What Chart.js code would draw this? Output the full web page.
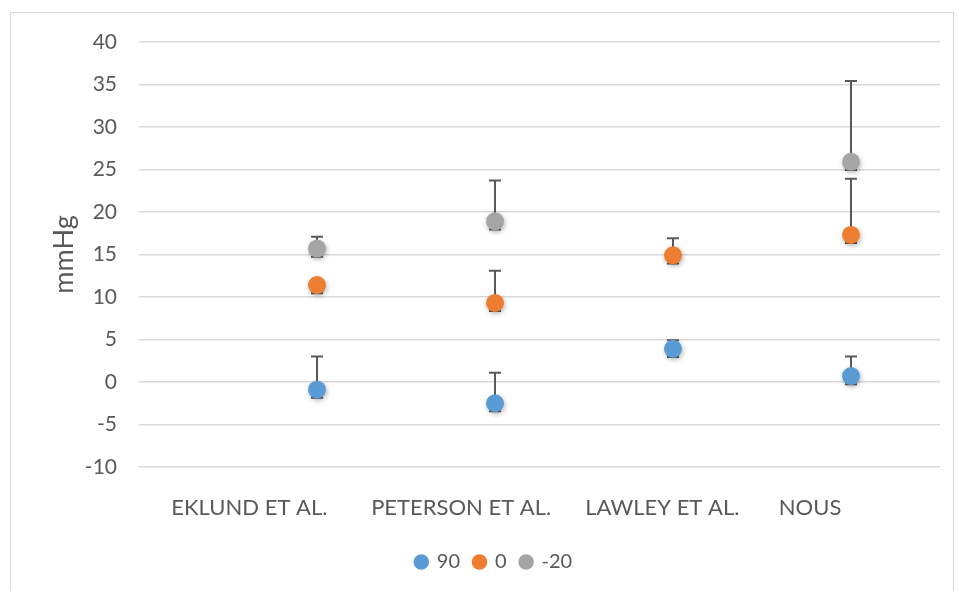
<!DOCTYPE html>
<html>
<head>
<meta charset="utf-8">
<script src="https://cdn.jsdelivr.net/npm/chart.js@4.4.1/dist/chart.umd.min.js"></script>
<style>
  html, body { margin: 0; padding: 0; background: #fff; }
  #wrap { position: relative; width: 958px; height: 591px; overflow: hidden; }
  #frame { position: absolute; left: 10px; top: 12px; width: 944px; height: 600px; border: 1px solid #d9d9d9; box-sizing: border-box; }
  canvas { position: absolute; left: 0; top: 0; }
</style>
</head>
<body>
<div id="wrap">
  <div id="frame"></div>
  <canvas id="errChart" width="958" height="591"></canvas>
</div>
<script>
// categories (studies)
const etudes = ["EKLUND ET AL.", "PETERSON ET AL.", "LAWLEY ET AL.", "NOUS"];
// where the category labels sit on the x scale (layout only)
const labelPos = [0.62, 1.81, 2.94, 3.77];

// mean values (mmHg)
const val90 = [-0.9, -2.5, 3.9, 0.7];
const val0 = [11.4, 9.3, 14.9, 17.3];
const valM20 = [15.7, 18.9, null, 25.9];

// upper error
const errHaut90 = [3.9, 3.6, 1.0, 2.3];
const errHaut0 = [0.0, 3.8, 2.0, 6.6];
const errHautM20 = [1.4, 4.8, 0, 9.5];

// lower error
const errBas = [0.95, 0.95, 0.95, 0.95];

const yTicks = { min: -10, max: 40, step: 5 };

const gris = "#595959";

function points(vals) {
  return vals
    .map((v, i) => ({ x: i + 1, y: v }))
    .filter(p => p.y !== null);
}

const errorBars = {
  id: "errorBars",
  beforeDatasetsDraw(chart) {
    const ctx = chart.ctx;
    const xs = chart.scales.x, ys = chart.scales.y;
    ctx.save();
    ctx.strokeStyle = gris;
    ctx.lineWidth = 2;
    chart.data.datasets.forEach(ds => {
      ds.data.forEach(p => {
        const i = p.x - 1;
        const x = xs.getPixelForValue(p.x);
        const yTop = ys.getPixelForValue(p.y + ds.errHaut[i]);
        const yBot = ys.getPixelForValue(p.y - ds.errBas[i]);
        ctx.beginPath();
        ctx.moveTo(x, yTop);
        ctx.lineTo(x, yBot);
        ctx.moveTo(x - 6, yTop);
        ctx.lineTo(x + 6, yTop);
        ctx.moveTo(x - 6, yBot);
        ctx.lineTo(x + 6, yBot);
        ctx.stroke();
      });
    });
    ctx.restore();
  },
  beforeDatasetDraw(chart) {
    const ctx = chart.ctx;
    ctx.save();
    ctx.shadowColor = "rgba(0,0,0,0.3)";
    ctx.shadowBlur = 5;
    ctx.shadowOffsetX = 1;
    ctx.shadowOffsetY = 2;
  },
  afterDatasetDraw(chart) {
    chart.ctx.restore();
  }
};

const ctx = document.getElementById("errChart").getContext("2d");

const chart = new Chart(ctx, {
  type: "scatter",
  data: {
    datasets: [
      {
        label: "90",
        data: points(val90),
        errHaut: errHaut90,
        errBas: errBas,
        backgroundColor: "#5B9BD5",
        borderColor: "#5B9BD5",
        pointRadius: 9,
        pointHoverRadius: 9,
        borderWidth: 0
      },
      {
        label: "0",
        data: points(val0),
        errHaut: errHaut0,
        errBas: errBas,
        backgroundColor: "#ED7D31",
        borderColor: "#ED7D31",
        pointRadius: 9,
        pointHoverRadius: 9,
        borderWidth: 0
      },
      {
        label: "-20",
        data: points(valM20),
        errHaut: errHautM20,
        errBas: errBas,
        backgroundColor: "#A5A5A5",
        borderColor: "#A5A5A5",
        pointRadius: 9,
        pointHoverRadius: 9,
        borderWidth: 0
      }
    ]
  },
  options: {
    responsive: false,
    animation: false,
    layout: { padding: { left: 48, right: 18, top: 42, bottom: 9 } },
    plugins: {
      legend: {
        position: "bottom",
        labels: {
          usePointStyle: true,
          pointStyle: "circle",
          boxWidth: 11,
          boxHeight: 11,
          padding: 14,
          color: gris,
          font: { family: "Lato", size: 20 }
        }
      },
      tooltip: { enabled: false }
    },
    scales: {
      x: {
        type: "linear",
        min: 0,
        max: 4.5,
        grid: { display: false },
        border: { display: false },
        afterBuildTicks(scale) {
          scale.ticks = labelPos.map(v => ({ value: v }));
        },
        afterFit(scale) {
          scale.height = 71;
        },
        ticks: {
          autoSkip: false,
          maxRotation: 0,
          padding: 20,
          color: gris,
          font: { family: "Lato", size: 22 },
          callback: (v, i) => etudes[i]
        }
      },
      y: {
        min: yTicks.min,
        max: yTicks.max,
        grid: { color: "#d9d9d9", lineWidth: 1.5, drawTicks: false },
        border: { display: false },
        afterFit(scale) {
          scale.width = 91;
        },
        ticks: {
          stepSize: yTicks.step,
          padding: 22,
          color: gris,
          font: { family: "Lato", size: 21 }
        },
        title: {
          display: true,
          text: "mmHg",
          color: gris,
          padding: { top: 0 },
          font: { family: "Lato", size: 27 }
        }
      }
    }
  },
  plugins: [errorBars]
});
</script>
</body>
</html>
